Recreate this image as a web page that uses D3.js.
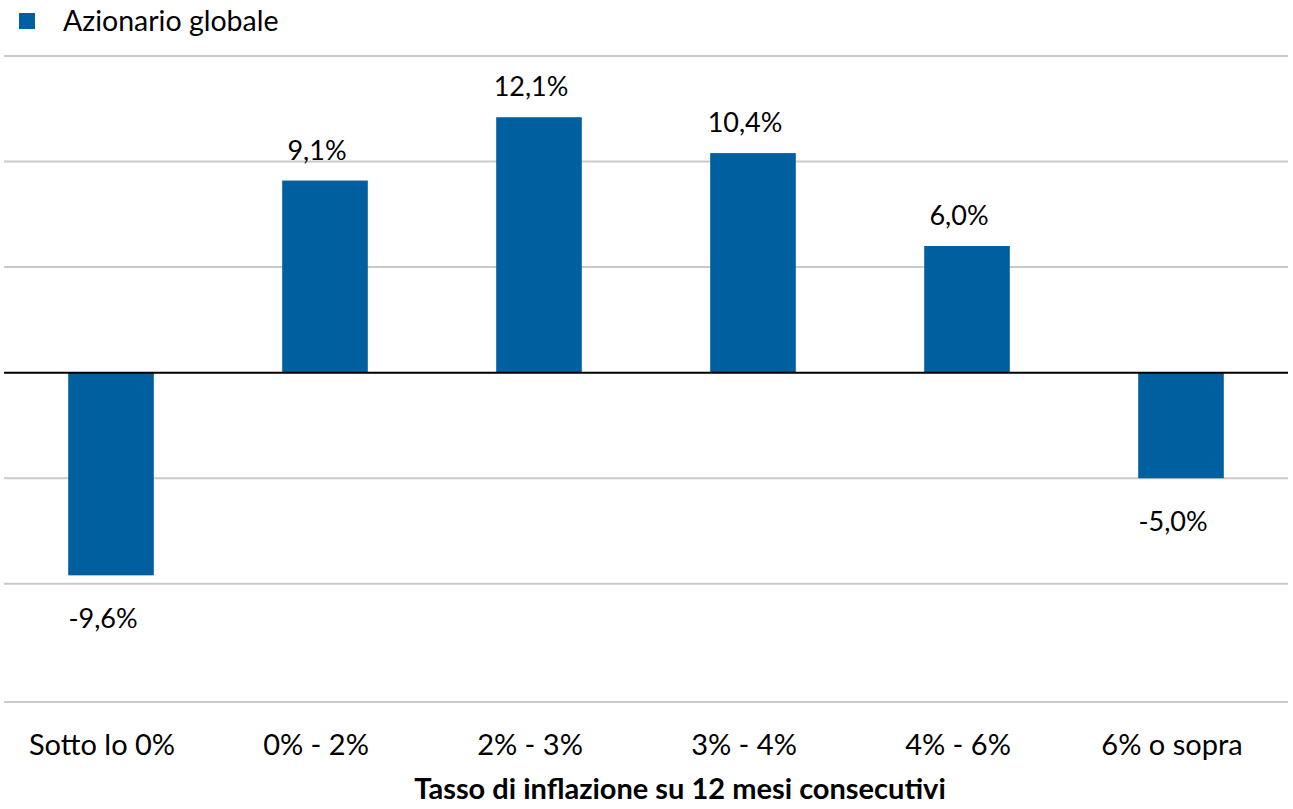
<!DOCTYPE html>
<html>
<head>
<meta charset="utf-8">
<script src="https://cdn.jsdelivr.net/npm/d3@7"></script>
<style>
  body { margin: 0; background: #fff; }
  text { font-family: Lato, "Open Sans", sans-serif; fill: #000; }
</style>
</head>
<body>
<svg id="chart" width="1293" height="809"></svg>
<script>
// Dati del grafico
var categorie = ["Sotto lo 0%", "0% - 2%", "2% - 3%", "3% - 4%", "4% - 6%", "6% o sopra"];
var valori = [-9.6, 9.1, 12.1, 10.4, 6.0, -5.0];
var serie = "Azionario globale";
var titoloAsse = "Tasso di inflazione su 12 mesi consecutivi";
var griglia = [-15.6, -10, -5, 5, 10, 15];

var svg = d3.select("#chart");

var colore = "#005f9e";

// Scale
var xScale = d3.scaleBand()
    .domain(categorie)
    .range([4, 1288])
    .paddingInner(0.6)
    .paddingOuter(0.3);

var yScale = d3.scaleLinear()
    .domain([-15.6, 15])
    .range([702, 56]);

// Linee della griglia
svg.append("g")
    .selectAll("line")
    .data(griglia)
    .enter()
    .append("line")
    .attr("x1", 4)
    .attr("x2", 1288)
    .attr("y1", d => yScale(d))
    .attr("y2", d => yScale(d))
    .attr("stroke", "#c9c9c9")
    .attr("stroke-width", 2);

// Barre
svg.append("g")
    .selectAll("rect")
    .data(valori)
    .enter()
    .append("rect")
    .attr("x", (d, i) => xScale(categorie[i]))
    .attr("y", d => yScale(Math.max(0, d)))
    .attr("width", xScale.bandwidth())
    .attr("height", d => Math.abs(yScale(d) - yScale(0)))
    .attr("fill", colore);

// Asse dello zero
svg.append("line")
    .attr("x1", 4)
    .attr("x2", 1288)
    .attr("y1", yScale(0))
    .attr("y2", yScale(0))
    .attr("stroke", "#000")
    .attr("stroke-width", 2);

// Etichette dei valori (leggermente spostate a sinistra come nell'originale)
var formato = d => d.toFixed(1).replace(".", ",") + "%";
svg.append("g")
    .selectAll("text")
    .data(valori)
    .enter()
    .append("text")
    .attr("x", (d, i) => xScale(categorie[i]) + xScale.bandwidth() / 2 - 8)
    .attr("y", d => d >= 0 ? yScale(d) - 21 : yScale(d) + 53)
    .attr("text-anchor", "middle")
    .style("font-size", "27px")
    .text(formato);

// Etichette delle categorie (asse x in basso)
var asseX = svg.append("g")
    .attr("transform", "translate(-9, 702)")
    .call(d3.axisBottom(xScale).tickSize(0).tickPadding(0));
asseX.select(".domain").remove();
asseX.selectAll("text")
    .attr("y", 53)
    .attr("dy", null)
    .style("font-size", "29px")
    .style("font-family", "Lato, 'Open Sans', sans-serif")
    .attr("fill", "#000");

// Titolo dell'asse
svg.append("text")
    .attr("x", 680)
    .attr("y", 799)
    .attr("text-anchor", "middle")
    .style("font-size", "29px")
    .style("font-weight", "bold")
    .text(titoloAsse);

// Legenda
svg.append("rect")
    .attr("x", 19)
    .attr("y", 13)
    .attr("width", 16)
    .attr("height", 16)
    .attr("fill", colore);
svg.append("text")
    .attr("x", 63)
    .attr("y", 31)
    .style("font-size", "28.5px")
    .text(serie);
</script>
</body>
</html>
